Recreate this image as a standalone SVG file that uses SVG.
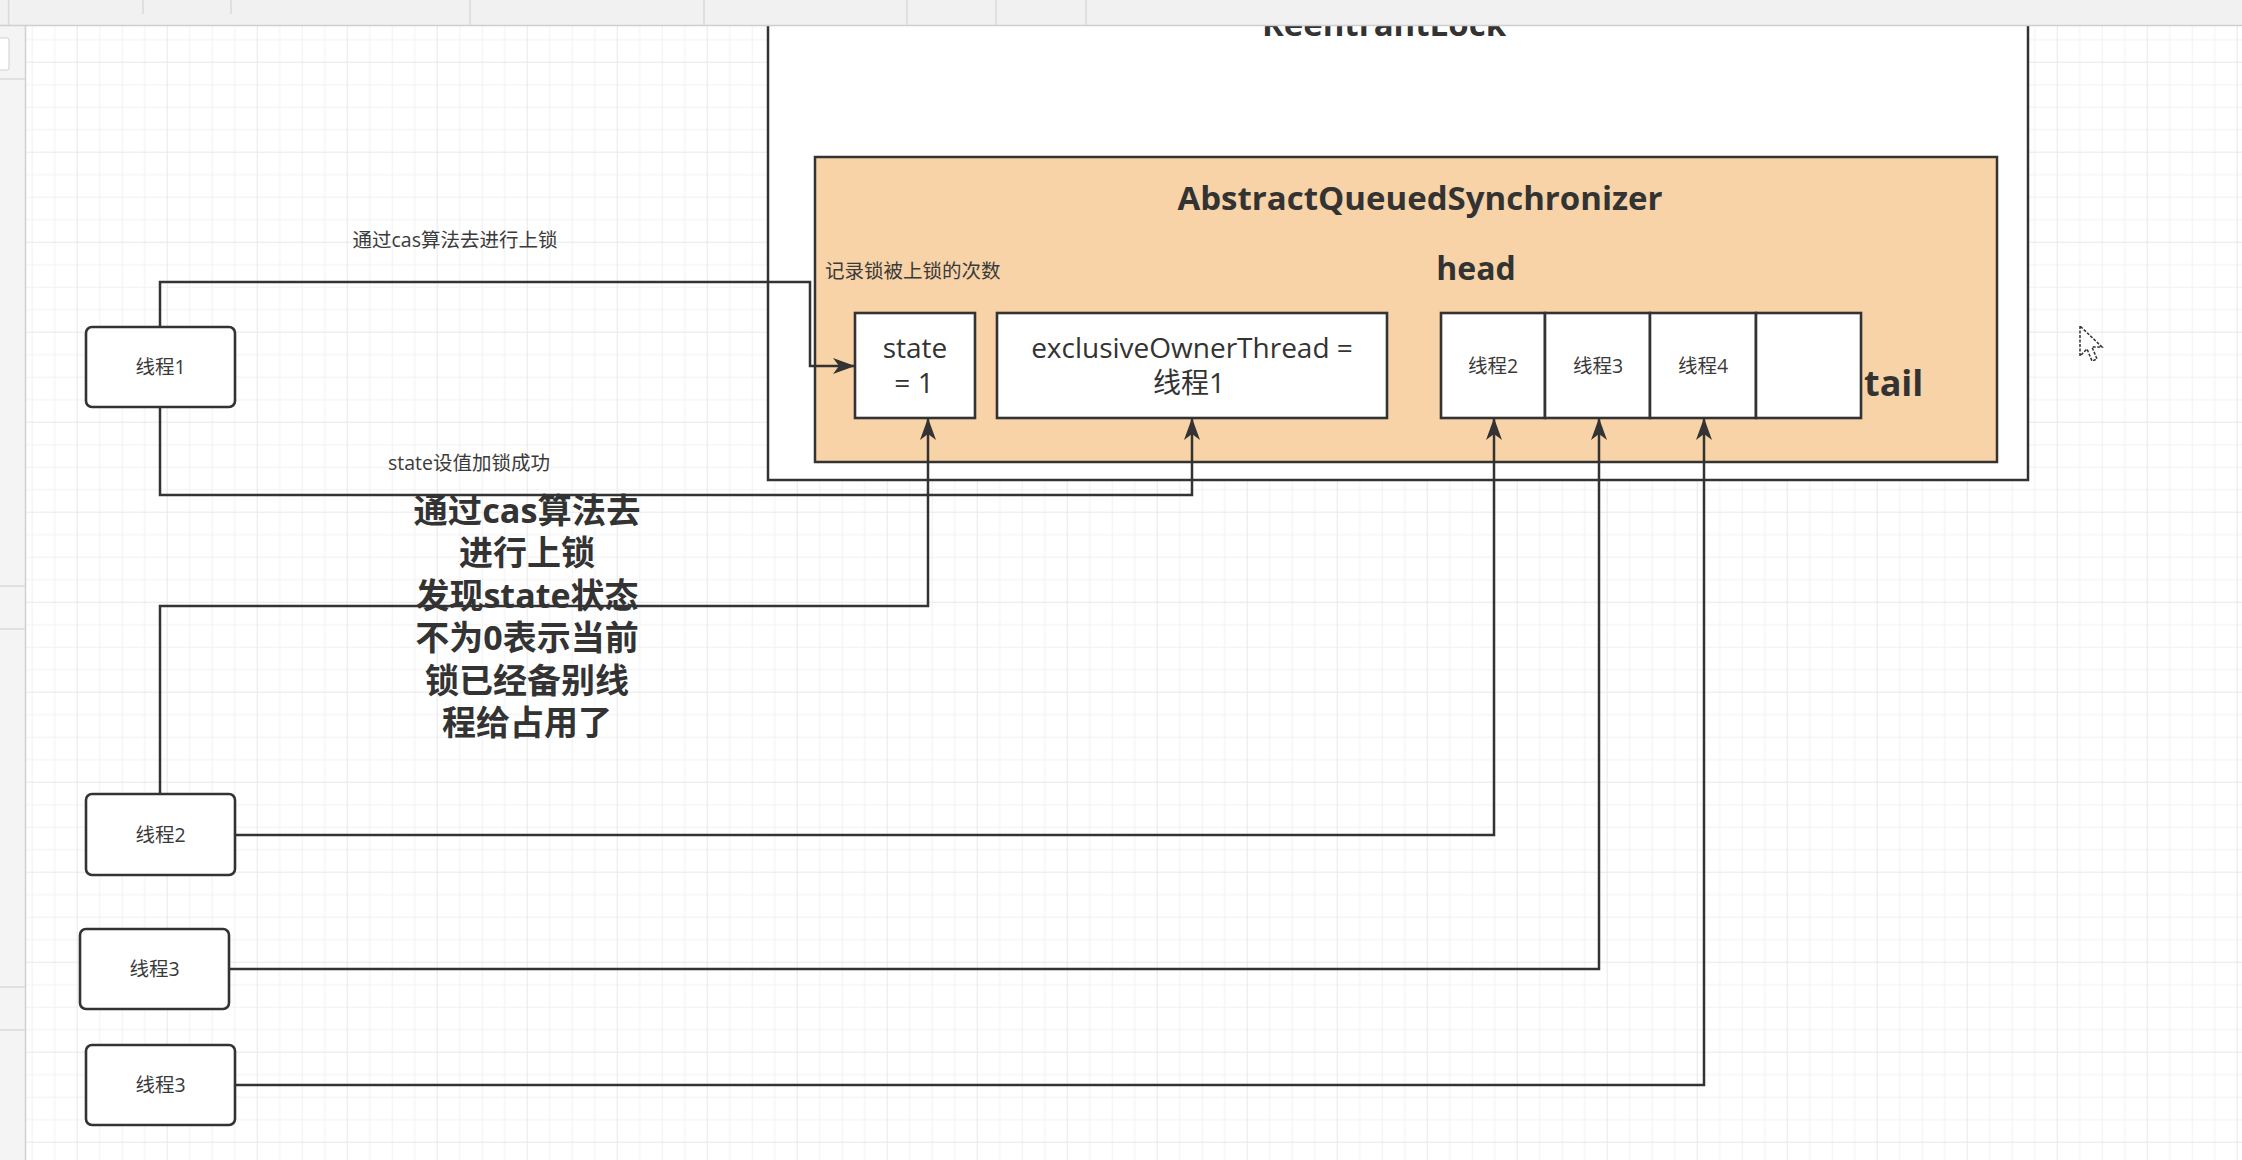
<svg xmlns="http://www.w3.org/2000/svg" width="2242" height="1160" viewBox="0 0 2242 1160">
<defs>
<style>
.t{font-family:"Open Sans","Noto Sans CJK SC",sans-serif;fill:#333;}
.s{font-size:19.5px;fill:#3a3a3a;}
.m{font-size:28px;}
.b{font-weight:bold;}
.box{fill:#fff;stroke:#333;stroke-width:2.6;}
.edge{fill:none;stroke:#333;stroke-width:2.5;}
.sep{stroke:#dadada;stroke-width:1.5;}
</style>
<pattern id="grid" patternUnits="userSpaceOnUse" x="76.7" y="61.7" width="90" height="90">
<rect x="22.5" y="0" width="1" height="90" fill="#f1f1f1"/>
<rect x="45" y="0" width="1" height="90" fill="#f1f1f1"/>
<rect x="67.5" y="0" width="1" height="90" fill="#f1f1f1"/>
<rect x="0" y="22.5" width="90" height="1" fill="#f1f1f1"/>
<rect x="0" y="45" width="90" height="1" fill="#f1f1f1"/>
<rect x="0" y="67.5" width="90" height="1" fill="#f1f1f1"/>
<rect x="0" y="0" width="1" height="90" fill="#e8e8e8"/>
<rect x="0" y="0" width="90" height="1" fill="#e8e8e8"/>
</pattern>
<marker id="arr" viewBox="-23 -9 24 18" refX="0" refY="0" markerWidth="24" markerHeight="18" orient="auto" markerUnits="userSpaceOnUse">
<path d="M0,0 L-22,-8 L-16,0 L-22,8 Z" fill="#333"/>
</marker>
</defs>

<rect x="0" y="0" width="2242" height="1160" fill="#fff"/>
<rect x="26" y="26" width="2216" height="1134" fill="url(#grid)"/>

<g id="reentrantlock">
<rect x="768" y="-10" width="1260" height="490" fill="#fff" stroke="#333" stroke-width="2.5"/>
<text class="t b" x="1384" y="36" text-anchor="middle" font-size="33">ReentrantLock</text>
</g>

<g id="aqs">
<rect x="815" y="157" width="1182" height="305" fill="#f7d3a7" stroke="#333" stroke-width="2.5"/>
<text class="t b" x="1420" y="210" text-anchor="middle" font-size="33">AbstractQueuedSynchronizer</text>
<text class="t b" x="1476" y="280" text-anchor="middle" font-size="32">head</text>
<text class="t b" x="1864" y="396" font-size="36">tail</text>
<text class="t s" x="825" y="278">记录锁被上锁的次数</text>
</g>

<g id="state">
<rect class="box" x="855" y="313" width="120" height="105"/>
<text class="t m" x="915" y="358" text-anchor="middle">state</text>
<text class="t m" x="914" y="393" text-anchor="middle">= 1</text>
</g>

<g id="owner">
<rect class="box" x="997" y="313" width="390" height="105"/>
<text class="t m" x="1192" y="358" text-anchor="middle">exclusiveOwnerThread =</text>
<text class="t m" x="1189" y="393" text-anchor="middle">线程1</text>
</g>

<g id="queue-slot-1">
<rect class="box" x="1441" y="313" width="104" height="105"/>
<text class="t s" x="1493" y="373" text-anchor="middle">线程2</text>
</g>
<g id="queue-slot-2">
<rect class="box" x="1545" y="313" width="105" height="105"/>
<text class="t s" x="1598" y="373" text-anchor="middle">线程3</text>
</g>
<g id="queue-slot-3">
<rect class="box" x="1650" y="313" width="106" height="105"/>
<text class="t s" x="1703" y="373" text-anchor="middle">线程4</text>
</g>
<g id="queue-slot-4">
<rect class="box" x="1756" y="313" width="105" height="105"/>
</g>

<g id="connectors">
<path class="edge" d="M160,327 V282 H810 V366 H855" marker-end="url(#arr)"/>
<path class="edge" d="M160,407 V495 H1192 V418" marker-end="url(#arr)"/>
<path class="edge" d="M160,794 V606 H928 V418" marker-end="url(#arr)"/>
<path class="edge" d="M235,835 H1494 V418" marker-end="url(#arr)"/>
<path class="edge" d="M229,969 H1599 V418" marker-end="url(#arr)"/>
<path class="edge" d="M235,1085 H1704 V418" marker-end="url(#arr)"/>
<text class="t s" x="455" y="247" text-anchor="middle">通过cas算法去进行上锁</text>
<text class="t s" x="469" y="470" text-anchor="middle">state设值加锁成功</text>
</g>

<g id="thread1">
<rect class="box" x="86" y="327" width="149" height="80" rx="6"/>
<text class="t s" x="160.5" y="374" text-anchor="middle">线程1</text>
</g>
<g id="thread2">
<rect class="box" x="86" y="794" width="149" height="81" rx="6"/>
<text class="t s" x="160.5" y="842" text-anchor="middle">线程2</text>
</g>
<g id="thread3a">
<rect class="box" x="80" y="929" width="149" height="80" rx="6"/>
<text class="t s" x="154.5" y="976" text-anchor="middle">线程3</text>
</g>
<g id="thread3b">
<rect class="box" x="86" y="1045" width="149" height="80" rx="6"/>
<text class="t s" x="160.5" y="1092" text-anchor="middle">线程3</text>
</g>

<g id="note" class="t b" font-size="34" text-anchor="middle">
<text x="527" y="523" textLength="227" lengthAdjust="spacingAndGlyphs">通过cas算法去</text>
<text x="527" y="565">进行上锁</text>
<text x="527" y="608">发现state状态</text>
<text x="527" y="650">不为0表示当前</text>
<text x="527" y="693">锁已经备别线</text>
<text x="527" y="735">程给占用了</text>
</g>

<g id="cursor">
<path d="M2080,326 L2080,356 L2087,349 L2092,361 L2097,359 L2092,347 L2102,347 Z" fill="#fff" stroke="#333" stroke-width="1.5" stroke-dasharray="3 1.5"/>
</g>

<g id="editor-ui">
<rect x="0" y="0" width="26" height="1160" fill="#f4f4f4"/>
<line x1="25.5" y1="26" x2="25.5" y2="1160" stroke="#d0d0d0" stroke-width="1.5"/>
<rect x="-2" y="38" width="11" height="32" rx="2" fill="#fff" stroke="#cfcfcf"/>
<line class="sep" x1="0" y1="79" x2="25" y2="79"/>
<line class="sep" x1="0" y1="586" x2="25" y2="586"/>
<line class="sep" x1="0" y1="629" x2="25" y2="629"/>
<line class="sep" x1="0" y1="987" x2="25" y2="987"/>
<line class="sep" x1="0" y1="1030" x2="25" y2="1030"/>
<rect x="0" y="0" width="2242" height="26" fill="#f1f1f1"/>
<line x1="0" y1="25.5" x2="2242" y2="25.5" stroke="#cfcfcf" stroke-width="1.5"/>
<line class="sep" x1="8.6" y1="0" x2="8.6" y2="25"/>
<line class="sep" x1="143" y1="0" x2="143" y2="14"/>
<line class="sep" x1="231" y1="0" x2="231" y2="14"/>
<line class="sep" x1="470" y1="0" x2="470" y2="25"/>
<line class="sep" x1="704" y1="0" x2="704" y2="25"/>
<line class="sep" x1="907" y1="0" x2="907" y2="25"/>
<line class="sep" x1="996" y1="0" x2="996" y2="25"/>
<line class="sep" x1="1086" y1="0" x2="1086" y2="25"/>
</g>
</svg>
